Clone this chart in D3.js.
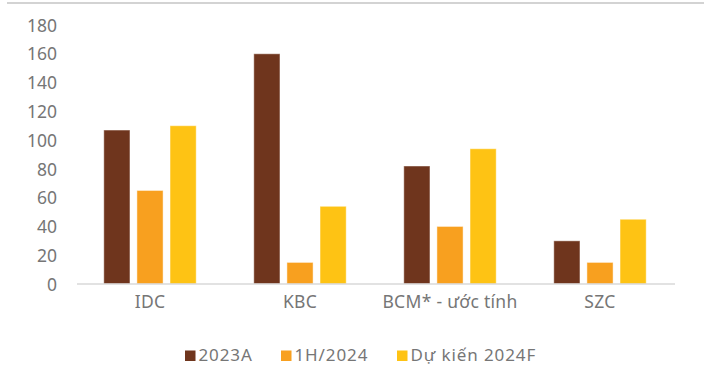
<!DOCTYPE html>
<html>
<head>
<meta charset="utf-8">
<script src="https://cdn.jsdelivr.net/npm/d3@7"></script>
<style>
  html, body { margin: 0; padding: 0; background: #fff; }
  svg { display: block; }
  text { font-family: "Noto Sans", "DejaVu Sans", sans-serif; fill: #767676; }
</style>
</head>
<body>
<svg id="chart" width="704" height="365"></svg>
<script>
// Companies on the x axis
const categories = ["IDC", "KBC", "BCM* - ước tính", "SZC"];
// Series shown per company
const seriesNames = ["2023A", "1H/2024", "Dự kiến 2024F"];
const values2023A = [107, 160, 82, 30];
const values1H2024 = [65, 15, 40, 15];
const values2024F = [110, 54, 94, 45];
const yTicks = [0, 20, 40, 60, 80, 100, 120, 140, 160, 180];
const colors = ["#6f351d", "#f8a01f", "#fec314"];

const seriesValues = [values2023A, values1H2024, values2024F];
const rows = categories.map((c, i) => ({
  category: c,
  values: seriesNames.map((s, j) => ({ series: s, value: seriesValues[j][i] }))
}));

const svg = d3.select("#chart");

// frame line along the top edge
svg.append("line")
  .attr("x1", 7).attr("x2", 704).attr("y1", 3).attr("y2", 3)
  .attr("stroke", "#c4c4c4").attr("stroke-width", 1.5);

const x0 = d3.scaleBand().domain(categories).range([75, 675])
  .paddingInner(0.384).paddingOuter(0.192);
const x1 = d3.scaleBand().domain(seriesNames).range([0, x0.bandwidth()])
  .paddingInner(0.21).paddingOuter(0);
const y = d3.scaleLinear().domain([0, 180]).range([284, 25]);
const color = d3.scaleOrdinal().domain(seriesNames).range(colors);

// y axis labels only
const yAxis = svg.append("g").attr("transform", "translate(57,0)")
  .call(d3.axisLeft(y).tickValues(yTicks).tickSize(0).tickPadding(0));
yAxis.select(".domain").remove();
yAxis.selectAll("text").style("font-size", "17.5px").attr("dy", "0.35em")
  .attr("fill", "#767676");

// bars
const groups = svg.append("g").selectAll("g").data(rows).join("g")
  .attr("transform", d => `translate(${x0(d.category)},0)`);
groups.selectAll("rect").data(d => d.values).join("rect")
  .attr("x", d => x1(d.series))
  .attr("y", d => y(d.value))
  .attr("width", x1.bandwidth())
  .attr("height", d => y(0) - y(d.value))
  .attr("fill", d => color(d.series))
  .attr("stroke", "rgba(255,255,255,0.45)")
  .attr("stroke-width", 1);

// baseline
svg.append("line")
  .attr("x1", 77).attr("x2", 675).attr("y1", y(0)).attr("y2", y(0))
  .attr("stroke", "#d9d9d9").attr("stroke-width", 1.5);

// x axis labels
const xAxis = svg.append("g").attr("transform", `translate(0,${y(0)})`)
  .call(d3.axisBottom(x0).tickSize(0).tickPadding(12));
xAxis.select(".domain").remove();
xAxis.selectAll("text").style("font-size", "17.5px")
  .style("letter-spacing", "0.3px").attr("fill", "#767676");

// legend
const legendX = [185, 281, 397];
const legend = svg.append("g").selectAll("g").data(seriesNames).join("g")
  .attr("transform", (d, i) => `translate(${legendX[i]},350.5)`);
legend.append("rect").attr("width", 10.5).attr("height", 10.5)
  .attr("fill", d => color(d));
legend.append("text").attr("x", 13.5).attr("y", 10.5)
  .style("font-size", "17px").style("letter-spacing", "0.9px").text(d => d);
</script>
</body>
</html>
